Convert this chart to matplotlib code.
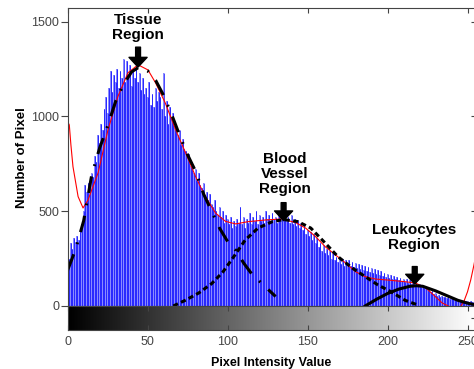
import numpy as np
import matplotlib
matplotlib.use("Agg")
import matplotlib.pyplot as plt

plt.rcParams["font.family"] = ["Liberation Sans", "DejaVu Sans"]

# ---- data ----
levels = np.arange(256)  # gray levels 0..255
counts = [
    200, 250, 330, 300, 360, 340, 370, 350, 410, 430, 500, 640, 600, 650, 620, 700,
    680, 790, 760, 900, 860, 960, 930, 1040, 1100, 1020, 1150, 1240, 1130, 1220, 1180, 1250,
    1150, 1240, 1200, 1300, 1180, 1290, 1210, 1270, 1160, 1240, 1200, 1290, 1180, 1230, 1140, 1200,
    1120, 1150, 1100, 1180, 1060, 1120, 1050, 1150, 1080, 1130, 1100, 1040, 1230, 1000, 1080, 960,
    1050, 990, 1020, 940, 960, 900, 930, 850, 880, 830, 820, 780, 800, 740, 760, 700,
    720, 660, 700, 640, 620, 650, 580, 600, 560, 590, 540, 520, 560, 500, 480, 520,
    470, 500, 440, 480, 460, 430, 470, 410, 450, 420, 460, 440, 520, 430, 470, 410,
    460, 440, 490, 430, 470, 450, 500, 430, 480, 450, 470, 440, 500, 460, 480, 450,
    490, 460, 470, 440, 500, 460, 510, 470, 480, 450, 470, 440, 480, 430, 460, 420,
    450, 410, 440, 400, 420, 380, 400, 370, 390, 350, 380, 330, 360, 310, 330, 290,
    320, 280, 300, 270, 290, 250, 280, 240, 260, 230, 250, 220, 250, 210, 240, 220,
    245, 210, 230, 205, 225, 200, 220, 195, 215, 190, 210, 185, 205, 180, 200, 175,
    195, 170, 190, 165, 185, 160, 175, 155, 170, 150, 165, 145, 160, 140, 155, 135,
    150, 130, 145, 125, 140, 120, 135, 115, 130, 110, 125, 105, 118, 100, 110, 95,
    100, 85, 90, 75, 80, 65, 70, 55, 60, 50, 55, 45, 48, 40, 45, 38,
    42, 35, 40, 32, 36, 30, 34, 28, 30, 25, 28, 22, 25, 20, 22, 18,
]

fit_x = [0.4, 1, 2, 3.3, 6.5, 9.6, 12.7, 19, 25.2, 31.4, 37.7, 44, 50.2, 55, 61, 67.5,
         73.8, 80, 86, 92.5, 98.75, 105, 113, 124, 134, 142.5, 148.75, 155, 161, 167.5,
         173.75, 180, 186, 192.5, 200, 205, 211, 217.5, 224, 230, 234, 238, 241, 244,
         246, 248, 250, 252, 254, 255]
fit_y = [965, 955, 850, 735, 577, 517, 559, 702, 929, 1105, 1230, 1272, 1245, 1176, 1071, 929,
         806, 682, 577, 490, 446, 433, 445, 454, 459, 440, 411, 366, 313, 269,
         227, 181, 155, 142, 137, 133, 128, 121, 95, 49, 17, 0, -15, -15,
         0, 30, 75, 137, 215, 260]

tissue_x = [0, 5, 10, 15, 20, 25, 30, 35, 40, 45, 50, 55, 60, 65, 70, 75, 80, 85, 90,
            95, 100, 105, 110, 115, 120, 125, 130]
tissue_y = [190, 300, 450, 690, 834, 950, 1080, 1170, 1235, 1262, 1240, 1190, 1110, 1010,
            900, 797, 710, 590, 500, 410, 340, 295, 227, 170, 130, 90, 50]

vessel_x = [66, 74, 82, 90, 97, 103, 111, 119, 128, 135, 144, 152, 161, 169, 178, 186,
            194, 202, 211, 218]
vessel_y = [0, 32, 69, 118, 179, 250, 348, 411, 445, 456, 445, 411, 332, 260, 200, 155,
            111, 76, 30, 8]

leuko_x = [186, 193, 200, 207, 214, 218, 222, 230, 237, 244, 250, 255]
leuko_y = [0, 35, 66, 89, 104, 107, 104, 80, 55, 30, 15, 6]

labels = ["Tissue\nRegion", "Blood\nVessel\nRegion", "Leukocytes\nRegion"]
label_x = [44, 136, 216.5]
label_y = [1470, 697, 359]
arrow_x = [44, 135, 217]
arrow_tail = [1365, 545, 208]
arrow_tip = [1260, 450, 116]

W, H = 474, 369
fig = plt.figure(figsize=(W / 100, H / 100), dpi=100)

spine_col = "#444444"
tick_col = "#444444"
ticks_x = [0, 50, 100, 150, 200, 250]
ticks_y = [0, 500, 1000, 1500]

# main histogram axes
ax = fig.add_axes([67.7 / W, (H - 306) / H, (475.5 - 67.7) / W, (306 - 8.3) / H])
ax.bar(levels, counts, width=1.0, color="#8a8aff", linewidth=0)
ax.vlines(levels, 0, counts, color="blue", linewidth=0.5)
ax.plot(fit_x, fit_y, color="red", linewidth=0.8)
ax.plot(tissue_x, tissue_y, color="black", linewidth=2.2, linestyle=(0, (5.5, 3.5, 0.6, 3.5)))
ax.plot(vessel_x, vessel_y, color="black", linewidth=2.2, linestyle=(0, (1.7, 1.1)))
ax.plot(leuko_x, leuko_y, color="black", linewidth=2.2)

for txt, tx, ty in zip(labels, label_x, label_y):
    ax.text(tx, ty, txt, ha="center", va="center", fontsize=11, fontweight="bold",
            linespacing=1.1)
for axx, y0, y1 in zip(arrow_x, arrow_tail, arrow_tip):
    ax.annotate("", xy=(axx, y1), xytext=(axx, y0),
                arrowprops=dict(facecolor="black", edgecolor="black", width=3.5,
                                headwidth=13, headlength=7, shrink=0))

ax.set_xlim(0, 255)
ax.set_ylim(0, 1570)
ax.set_xticks(ticks_x)
ax.set_yticks(ticks_y)
ax.tick_params(axis="x", direction="in", length=3.5, width=0.8, colors=tick_col,
               top=True, bottom=False, labelbottom=False)
ax.tick_params(axis="y", direction="out", length=5, width=0.8, colors=tick_col,
               labelsize=9, pad=1)
for s in ax.spines.values():
    s.set_color(spine_col)
    s.set_linewidth(0.8)
ax.set_ylabel("Number of Pixel", fontsize=9.5, fontweight="bold")
ax.yaxis.set_label_coords(-0.097, 0.5)

# right-hand ticks point inward
rax = ax.twinx()
rax.set_ylim(0, 1570)
rax.set_yticks(ticks_y)
rax.tick_params(axis="y", direction="in", length=3.5, width=0.8, colors=tick_col,
                labelright=False)
for s in rax.spines.values():
    s.set_visible(False)

# gray-level strip below
cax = fig.add_axes([67.7 / W, (H - 330) / H, (475.5 - 67.7) / W, 24 / H])
grad = np.linspace(0, 255, 256).reshape(1, -1)
cax.imshow(grad, cmap="gray", aspect="auto", extent=[0, 255, 0, 1], vmin=0, vmax=255)
cax.set_xlim(0, 255)
cax.set_ylim(0, 1)
cax.set_xticks(ticks_x)
cax.set_yticks([0.5])
cax.set_yticklabels([])
cax.tick_params(axis="x", direction="in", length=3.5, width=0.8, colors=tick_col,
                labelsize=9, top=True, pad=4)
cax.tick_params(axis="y", direction="in", length=3.5, width=0.8, colors=tick_col,
                left=False, right=True)
for s in cax.spines.values():
    s.set_color(spine_col)
    s.set_linewidth(0.8)
cax.set_xlabel("Pixel Intensity Value", fontsize=9, fontweight="bold", labelpad=7)

fig.savefig("out.png", dpi=100)
